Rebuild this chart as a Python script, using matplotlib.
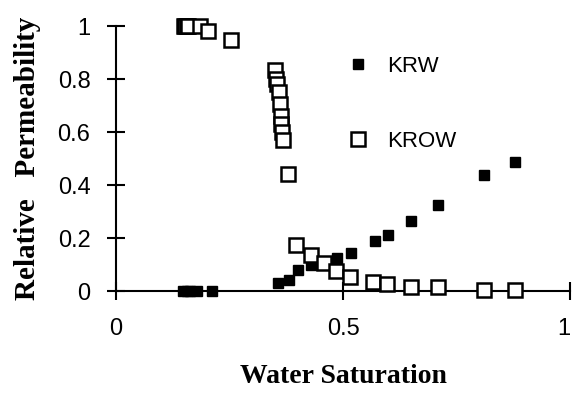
import matplotlib
matplotlib.use("Agg")
import matplotlib.pyplot as plt

# water saturation / relative permeability
krw_sw = [0.148, 0.155, 0.163, 0.178, 0.211, 0.357, 0.380, 0.401, 0.430,
          0.487, 0.518, 0.570, 0.599, 0.649, 0.708, 0.809, 0.879]
krw = [0.0, 0.0, 0.0, 0.0, 0.0, 0.03, 0.04, 0.08, 0.098,
       0.125, 0.143, 0.19, 0.21, 0.264, 0.325, 0.437, 0.487]

krow_sw = [0.150, 0.152, 0.155, 0.158, 0.184, 0.203, 0.254,
           0.349, 0.352, 0.355, 0.358, 0.360, 0.362, 0.364, 0.366, 0.368, 0.378,
           0.397, 0.430, 0.458, 0.485, 0.515, 0.566, 0.597, 0.649, 0.708,
           0.809, 0.879]
krow = [1.0, 1.0, 1.0, 1.0, 1.0, 0.98, 0.947,
        0.835, 0.80, 0.78, 0.75, 0.705, 0.66, 0.63, 0.60, 0.57, 0.44,
        0.175, 0.135, 0.105, 0.075, 0.052, 0.034, 0.026, 0.015, 0.015,
        0.004, 0.004]

x_ticks = [0, 0.5, 1]
x_labels = ["0", "0.5", "1"]
y_ticks = [0, 0.2, 0.4, 0.6, 0.8, 1]
y_labels = ["0", "0.2", "0.4", "0.6", "0.8", "1"]

sans = "Liberation Sans"
serif = "Liberation Serif"

fig = plt.figure(figsize=(5.72, 3.96), dpi=100)
ax = fig.add_axes([0.203, 0.265, 0.794, 0.669])

ax.plot(krw_sw, krw, linestyle="none", marker="s", markersize=7.5,
        color="black", clip_on=False, zorder=3, label="KRW")
ax.plot(krow_sw, krow, linestyle="none", marker="s", markersize=9.5,
        markerfacecolor="white", markeredgecolor="black", markeredgewidth=1.8,
        clip_on=False, zorder=4, label="KROW")

ax.set_xlim(0, 1)
ax.set_ylim(0, 1)
ax.spines["top"].set_visible(False)
ax.spines["right"].set_visible(False)
ax.spines["left"].set_linewidth(1.5)
ax.spines["bottom"].set_linewidth(1.5)

ax.set_xticks(x_ticks)
ax.set_xticklabels(x_labels, fontfamily=sans, fontsize=17)
ax.get_xticklabels()[-1].set_horizontalalignment("right")
ax.set_yticks(y_ticks)
ax.set_yticklabels(y_labels, fontfamily=sans, fontsize=17)
ax.tick_params(axis="both", direction="inout", length=13, width=1.5)
ax.tick_params(axis="x", pad=13)
ax.tick_params(axis="y", pad=12)

ax.set_xlabel("Water Saturation", fontfamily=serif, fontweight="bold",
              fontsize=20, labelpad=17)
ax.set_ylabel("Relative   Permeability", fontfamily=serif,
              fontweight="bold", fontsize=21, labelpad=12)

ax.legend(loc="upper left", bbox_to_anchor=(0.484, 0.93), frameon=False,
          numpoints=1, handlelength=1.0, handletextpad=0.8, borderpad=0,
          labelspacing=2.45, prop={"family": sans, "size": 16})

fig.savefig("out.png", dpi=100)
